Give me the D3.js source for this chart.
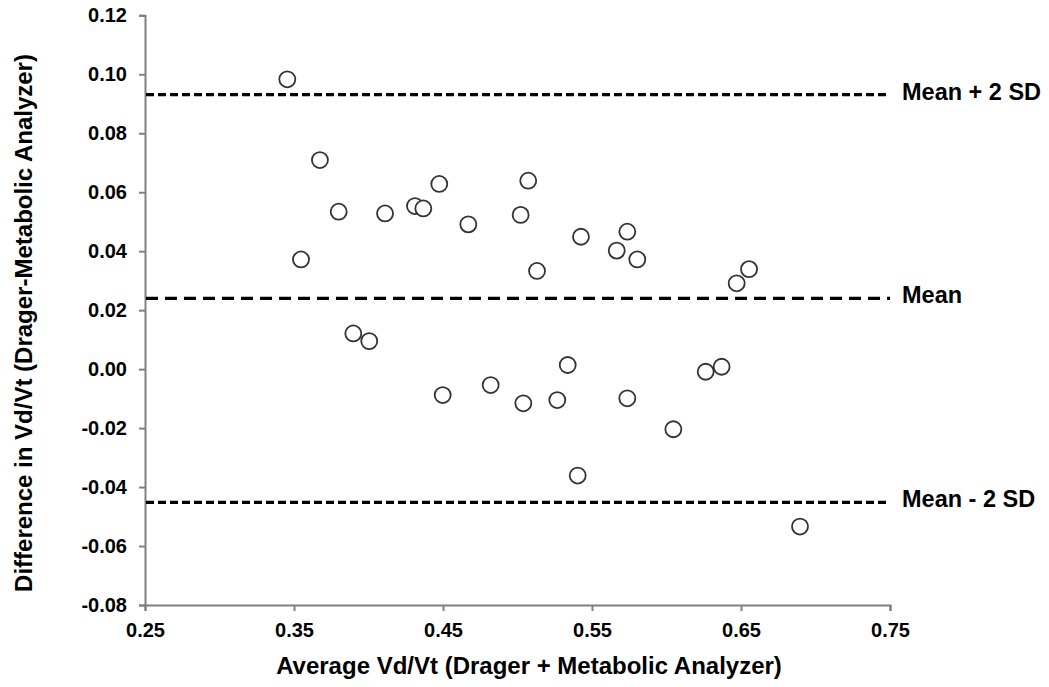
<!DOCTYPE html>
<html lang="en">

<head>
    <meta charset="UTF-8">
    <title>Bland-Altman Vd/Vt</title>
    <script src="https://cdn.jsdelivr.net/npm/d3@7/dist/d3.min.js"></script>
    <style>
        body { margin: 0; background: #fff; }
        text { font-family: "Liberation Sans", Arial, sans-serif; font-weight: bold; fill: #000; }
    </style>
</head>

<body>
</body>

</html>
<script>
    var width = 1049; // canvas width
    var height = 687; // canvas height

    // average Vd/Vt (x) and difference (y) for each subject
    var avgVdVt = [0.3455, 0.3674, 0.3800, 0.4111, 0.4312, 0.4368, 0.4475, 0.4670, 0.5021, 0.5072,
        0.3547, 0.5131, 0.5426, 0.5737, 0.5666, 0.5804, 0.6471, 0.6554, 0.3898, 0.4005,
        0.4498, 0.4820, 0.5039, 0.5337, 0.5267, 0.5737, 0.6046, 0.5404, 0.6263, 0.6370, 0.6896];
    var diffVdVt = [0.0983, 0.0709, 0.0534, 0.0528, 0.0553, 0.0545, 0.0628, 0.0491, 0.0523, 0.0639,
        0.0372, 0.0333, 0.0449, 0.0466, 0.0402, 0.0372, 0.0291, 0.0339, 0.0121, 0.0095,
        -0.0088, -0.0054, -0.0116, 0.0014, -0.0105, -0.0099, -0.0204, -0.0361, -0.0009, 0.0008, -0.0534];

    // mean and limits of agreement
    var refNames = ["Mean + 2 SD", "Mean", "Mean - 2 SD"];
    var refValues = [0.0931, 0.0240, -0.0452];
    var refDash = ["8,4", "12,7", "8,4"];

    var xTicks = [0.25, 0.35, 0.45, 0.55, 0.65, 0.75];
    var yTicks = [0.12, 0.10, 0.08, 0.06, 0.04, 0.02, 0.00, -0.02, -0.04, -0.06, -0.08];

    // plain hyphen for negative numbers, like the original
    var fmt = d3.formatLocale({ decimal: ".", thousands: ",", grouping: [3], currency: ["", ""], minus: "-" })
        .format(".2f");

    var svg = d3.select("body")
        .append("svg")
        .attr("width", width)
        .attr("height", height);

    var x = d3.scaleLinear()
        .domain([0.25, 0.75])
        .range([145, 890]);
    var y = d3.scaleLinear()
        .domain([-0.08, 0.12])
        .range([605, 15.3]);

    var xAxis = d3.axisBottom(x)
        .tickValues(xTicks)
        .tickFormat(fmt)
        .tickSize(6)
        .tickPadding(12);
    var yAxis = d3.axisLeft(y)
        .tickValues(yTicks)
        .tickFormat(fmt)
        .tickSize(6)
        .tickPadding(12);

    var gx = svg.append("g")
        .attr("transform", "translate(0," + y(-0.08) + ")")
        .call(xAxis);
    var gy = svg.append("g")
        .attr("transform", "translate(" + x(0.25) + ",0)")
        .call(yAxis);

    // gray axis lines, black bold labels
    [gx, gy].forEach(function (g) {
        g.selectAll("path, line")
            .attr("stroke", "#808080")
            .attr("stroke-width", 2);
        g.selectAll("text")
            .attr("font-size", 20)
            .attr("fill", "#000");
    });

    // reference lines
    svg.selectAll(".ref")
        .data(refValues)
        .enter()
        .append("line")
        .attr("class", "ref")
        .attr("x1", x(0.25) + 1)
        .attr("x2", x(0.75))
        .attr("y1", function (d) { return y(d); })
        .attr("y2", function (d) { return y(d); })
        .attr("stroke", "#000")
        .attr("stroke-width", 3.3)
        .attr("stroke-dasharray", function (d, i) { return refDash[i]; });

    svg.selectAll(".refLabel")
        .data(refValues)
        .enter()
        .append("text")
        .attr("class", "refLabel")
        .attr("x", 902)
        .attr("y", function (d) { return y(d) + 5; })
        .attr("font-size", 23.5)
        .text(function (d, i) { return refNames[i]; });

    // points
    svg.selectAll(".pt")
        .data(avgVdVt)
        .enter()
        .append("circle")
        .attr("class", "pt")
        .attr("cx", function (d) { return x(d); })
        .attr("cy", function (d, i) { return y(diffVdVt[i]); })
        .attr("r", 8)
        .attr("fill", "#fff")
        .attr("stroke", "#333")
        .attr("stroke-width", 1.8);

    // axis titles
    svg.append("text")
        .attr("x", 529)
        .attr("y", 674)
        .attr("text-anchor", "middle")
        .attr("font-size", 24)
        .text("Average Vd/Vt (Drager + Metabolic Analyzer)");

    svg.append("text")
        .attr("transform", "translate(32,323) rotate(-90)")
        .attr("text-anchor", "middle")
        .attr("font-size", 24)
        .text("Difference in Vd/Vt (Drager-Metabolic Analyzer)");
</script>
